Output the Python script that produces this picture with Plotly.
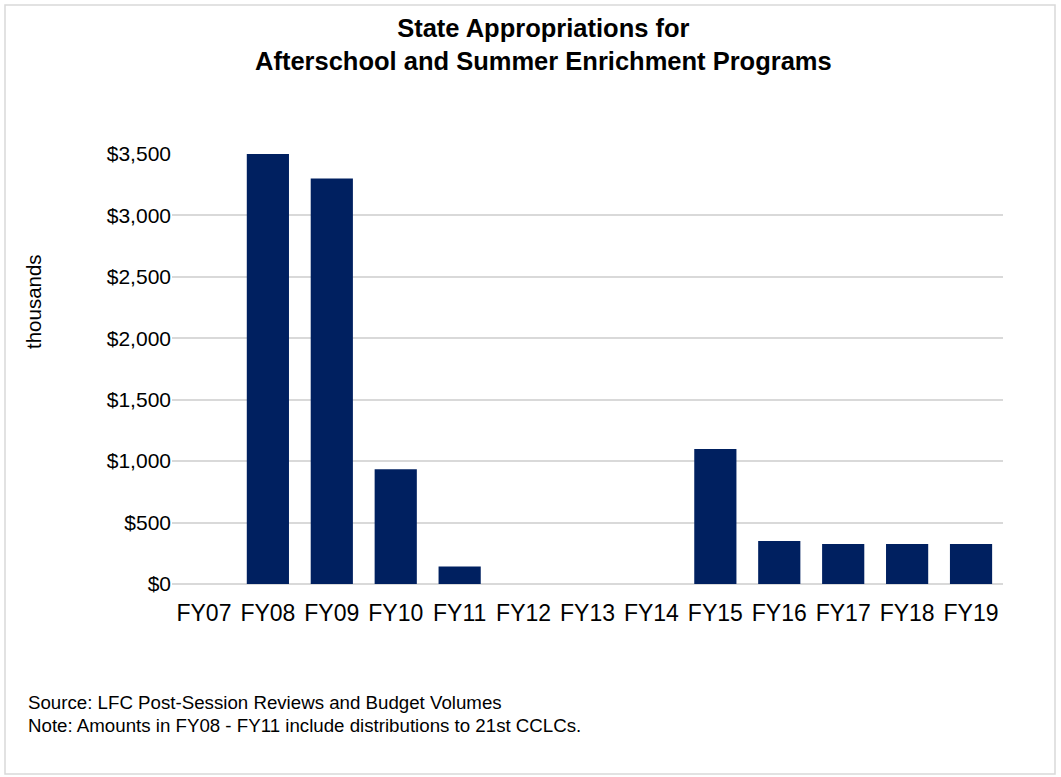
import plotly.graph_objects as go

categories = ["FY07", "FY08", "FY09", "FY10", "FY11", "FY12", "FY13",
              "FY14", "FY15", "FY16", "FY17", "FY18", "FY19"]
values = [0, 3500, 3300, 935, 142, 0, 0, 0, 1098, 350, 325, 325, 325]
y_ticks = [0, 500, 1000, 1500, 2000, 2500, 3000, 3500]
y_ticktext = ["$0", "$500", "$1,000", "$1,500", "$2,000", "$2,500", "$3,000", "$3,500"]

W, H = 1061, 777
L, R, T, B = 172, 58, 154, 193
pw, ph = W - L - R, H - T - B

def px(x):
    return (x - L) / pw

def py(y):
    return (H - B - y) / ph

FONT = "Liberation Sans, Arial, sans-serif"

fig = go.Figure(go.Bar(
    x=categories, y=values,
    marker=dict(color="#002060", line=dict(width=0)),
    width=0.66,
))

fig.update_layout(
    width=W, height=H,
    margin=dict(l=L, r=R, t=T, b=B),
    paper_bgcolor="white", plot_bgcolor="white",
    font=dict(family=FONT, color="black", size=20),
    showlegend=False,
    xaxis=dict(type="category", showgrid=False, showline=False, zeroline=False,
               ticks="outside", ticklen=8, tickcolor="rgba(0,0,0,0)",
               tickfont=dict(size=23, family=FONT, color="black")),
    yaxis=dict(range=[0, 3500], tickmode="array", tickvals=y_ticks, ticktext=y_ticktext,
               showgrid=True, gridcolor="#d9d9d9", gridwidth=1.5,
               zeroline=True, zerolinecolor="#d9d9d9", zerolinewidth=1.5,
               showline=False, ticks="",
               tickfont=dict(size=21, family=FONT, color="black")),
    annotations=[
        dict(text="<b>State Appropriations for<br>Afterschool and Summer Enrichment Programs</b>",
             xref="paper", yref="paper", x=px(543), y=py(44), xanchor="center", yanchor="middle",
             showarrow=False, font=dict(size=25.5, family=FONT, color="black")),
        dict(text="thousands", textangle=-90, xref="paper", yref="paper",
             x=px(33), y=py(302), xanchor="center", yanchor="middle",
             showarrow=False, font=dict(size=20.5, family=FONT, color="black")),
        dict(text="Source: LFC Post-Session Reviews and Budget Volumes",
             xref="paper", yref="paper", x=px(26), y=py(702), xanchor="left", yanchor="middle",
             showarrow=False, font=dict(size=18.7, family=FONT, color="black")),
        dict(text="Note: Amounts in FY08 - FY11 include distributions to 21st CCLCs.",
             xref="paper", yref="paper", x=px(26), y=py(725), xanchor="left", yanchor="middle",
             showarrow=False, font=dict(size=18.7, family=FONT, color="black")),
    ],
    shapes=[dict(type="rect", xref="paper", yref="paper",
                 x0=px(5), x1=px(1055), y0=py(5), y1=py(774),
                 line=dict(color="#d9d9d9", width=1.5), fillcolor="rgba(0,0,0,0)", layer="below")],
)

fig.write_html("out.html", config={"displayModeBar": False},
               post_script="document.body.style.margin='0';")
